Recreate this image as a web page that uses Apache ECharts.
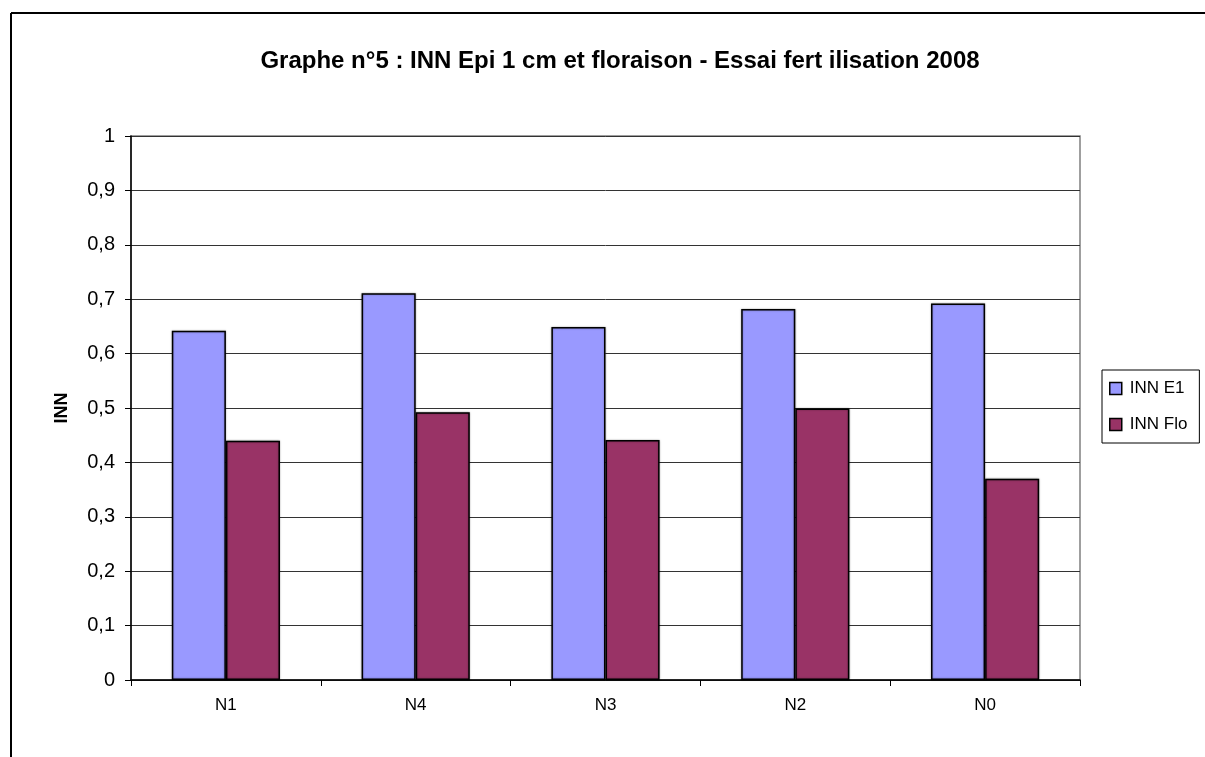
<!DOCTYPE html>
<html>
<head>
<meta charset="utf-8">
<script src="https://cdn.jsdelivr.net/npm/echarts@6/dist/echarts.min.js"></script>
<style>
  html, body { margin: 0; padding: 0; background: #fff; }
  #chart { width: 1205px; height: 757px; }
</style>
</head>
<body>
<div id="chart"></div>
<script>
// categories and values
var categories = ['N1', 'N4', 'N3', 'N2', 'N0'];
var innE1 = [0.642, 0.711, 0.649, 0.682, 0.692];
var innFlo = [0.44, 0.492, 0.441, 0.499, 0.37];
var seriesNames = ['INN E1', 'INN Flo'];

var font = 'Arial, "Liberation Sans", sans-serif';
var myChart = echarts.init(document.getElementById('chart'));

var option = {
    backgroundColor: '#fff',
    animation: false,
    title: {
        text: 'Graphe n°5 : INN Epi 1 cm et floraison - Essai fert ilisation 2008',
        left: 615,
        textAlign: 'center',
        top: 44,
        textStyle: { fontFamily: font, fontSize: 24, fontWeight: 'bold', color: '#000' }
    },
    legend: {
        data: seriesNames,
        orient: 'vertical',
        left: 1102,
        top: 370,
        padding: [10, 12, 10, 7],
        itemGap: 19,
        itemWidth: 12,
        itemHeight: 12,
        icon: 'rect',
        borderColor: '#000',
        borderWidth: 1,
        itemStyle: { borderColor: '#000', borderWidth: 1.5 },
        textStyle: { fontFamily: font, fontSize: 17, color: '#000', padding: [0, 0, 0, 3] }
    },
    graphic: [
        { type: 'line', shape: { x1: 11, y1: 13, x2: 1205, y2: 13 }, style: { stroke: '#000', lineWidth: 2 } },
        { type: 'line', shape: { x1: 11, y1: 13, x2: 11, y2: 757 }, style: { stroke: '#000', lineWidth: 2 } }
    ],
    grid: {
        left: 131,
        right: 125,
        top: 136,
        bottom: 77,
        show: true,
        borderColor: '#808080',
        borderWidth: 1.5
    },
    xAxis: {
        type: 'category',
        data: categories,
        axisLine: { lineStyle: { color: '#000', width: 1.5 } },
        axisTick: { show: true, length: 6, lineStyle: { color: '#000' } },
        axisLabel: { margin: 17, fontFamily: font, fontSize: 17, color: '#000' }
    },
    yAxis: {
        type: 'value',
        min: 0,
        max: 1,
        interval: 0.1,
        name: 'INN',
        nameLocation: 'middle',
        nameRotate: 90,
        nameGap: 60,
        nameTextStyle: { fontFamily: font, fontSize: 18, fontWeight: 'bold', color: '#000' },
        axisLine: { show: true, lineStyle: { color: '#000', width: 1.5 } },
        axisTick: { show: true, length: 6, lineStyle: { color: '#000' } },
        axisLabel: {
            margin: 16,
            fontFamily: font,
            fontSize: 20,
            color: '#000',
            formatter: function (v) { return String(Math.round(v * 10) / 10).replace('.', ','); }
        },
        splitLine: { lineStyle: { color: '#333', width: 1 } }
    },
    series: [
        {
            name: seriesNames[0],
            type: 'bar',
            data: innE1,
            barGap: '0%',
            barCategoryGap: '43%',
            itemStyle: {
                color: '#9999FF',
                borderColor: '#000',
                borderWidth: 1.5,
                shadowColor: 'rgba(0,0,0,0.35)',
                shadowBlur: 2
            }
        },
        {
            name: seriesNames[1],
            type: 'bar',
            data: innFlo,
            barGap: '0%',
            barCategoryGap: '43%',
            itemStyle: {
                color: '#993366',
                borderColor: '#000',
                borderWidth: 1.5,
                shadowColor: 'rgba(0,0,0,0.35)',
                shadowBlur: 2
            }
        }
    ]
};
myChart.setOption(option);
</script>
</body>
</html>
